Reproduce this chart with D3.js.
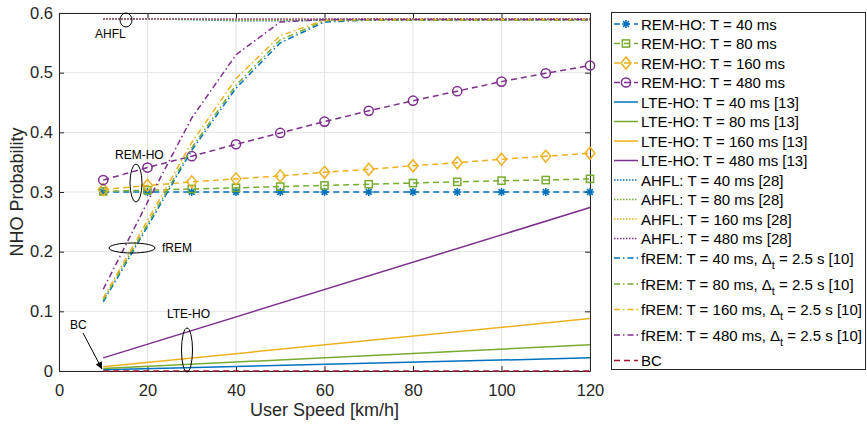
<!DOCTYPE html>
<html>
<head>
<meta charset="utf-8">
<script src="https://cdn.jsdelivr.net/npm/d3@7"></script>
<style>
  body { margin: 0; background: #fff; }
  svg { font-family: "Liberation Sans", Arial, sans-serif; }
</style>
</head>
<body>
<div id="chart"></div>
<script>
// ---- data ----
const speeds = [10, 20, 30, 40, 50, 60, 70, 80, 90, 100, 110, 120];
const lteSpeeds = [10, 120];
const xTicks = [0, 20, 40, 60, 80, 100, 120];
const yTicks = [0, 0.1, 0.2, 0.3, 0.4, 0.5, 0.6];

const remHo40 = [0.300, 0.300, 0.300, 0.300, 0.300, 0.300, 0.300, 0.300, 0.300, 0.300, 0.300, 0.300];
const remHo80 = [0.301, 0.303, 0.305, 0.307, 0.309, 0.311, 0.313, 0.315, 0.317, 0.319, 0.320, 0.322];
const remHo160 = [0.304, 0.311, 0.317, 0.322, 0.327, 0.333, 0.338, 0.344, 0.349, 0.355, 0.360, 0.365];
const remHo480 = [0.320, 0.341, 0.360, 0.380, 0.399, 0.418, 0.436, 0.453, 0.469, 0.485, 0.499, 0.512];

const lteHo40 = [0.002, 0.022];
const lteHo80 = [0.004, 0.044];
const lteHo160 = [0.007, 0.088];
const lteHo480 = [0.022, 0.274];

const ahfl40 = [0.590, 0.590, 0.589, 0.587, 0.587, 0.588, 0.589, 0.589, 0.589, 0.589, 0.589, 0.589];
const ahfl80 = [0.590, 0.590, 0.589, 0.588, 0.588, 0.589, 0.589, 0.589, 0.589, 0.589, 0.589, 0.589];
const ahfl160 = [0.590, 0.590, 0.590, 0.589, 0.589, 0.589, 0.590, 0.590, 0.590, 0.590, 0.590, 0.590];
const ahfl480 = [0.590, 0.590, 0.590, 0.590, 0.590, 0.590, 0.590, 0.590, 0.590, 0.590, 0.590, 0.590];

const frem40 = [0.116, 0.242, 0.370, 0.474, 0.550, 0.585, 0.588, 0.588, 0.588, 0.588, 0.588, 0.588];
const frem80 = [0.119, 0.246, 0.374, 0.479, 0.555, 0.587, 0.588, 0.588, 0.588, 0.588, 0.588, 0.588];
const frem160 = [0.122, 0.252, 0.383, 0.490, 0.562, 0.588, 0.589, 0.589, 0.589, 0.589, 0.589, 0.589];
const frem480 = [0.137, 0.283, 0.424, 0.530, 0.585, 0.589, 0.589, 0.589, 0.589, 0.589, 0.589, 0.589];

const bc = [0, 0, 0, 0, 0, 0, 0, 0, 0, 0, 0, 0];

const C = {
  blue: '#0072BD', green: '#77AC30', yellow: '#EDB120', purple: '#7E2F8E', red: '#A2142F'
};

// style per family
const DASH = '6,4';
const DOT = '1.5,1.5';
const DASHDOT = '6,3,1.5,3';

const series = [
  { label: 'REM-HO: T = 40 ms', xs: speeds, ys: remHo40, color: C.blue, dash: DASH, marker: 'asterisk' },
  { label: 'REM-HO: T = 80 ms', xs: speeds, ys: remHo80, color: C.green, dash: DASH, marker: 'square' },
  { label: 'REM-HO: T = 160 ms', xs: speeds, ys: remHo160, color: C.yellow, dash: DASH, marker: 'diamond' },
  { label: 'REM-HO: T = 480 ms', xs: speeds, ys: remHo480, color: C.purple, dash: DASH, marker: 'circle' },
  { label: 'LTE-HO: T = 40 ms [13]', xs: lteSpeeds, ys: lteHo40, color: C.blue, dash: null },
  { label: 'LTE-HO: T = 80 ms [13]', xs: lteSpeeds, ys: lteHo80, color: C.green, dash: null },
  { label: 'LTE-HO: T = 160 ms [13]', xs: lteSpeeds, ys: lteHo160, color: C.yellow, dash: null },
  { label: 'LTE-HO: T = 480 ms [13]', xs: lteSpeeds, ys: lteHo480, color: C.purple, dash: null },
  { label: 'AHFL: T = 40 ms [28]', xs: speeds, ys: ahfl40, color: C.blue, dash: DOT },
  { label: 'AHFL: T = 80 ms [28]', xs: speeds, ys: ahfl80, color: C.green, dash: DOT },
  { label: 'AHFL: T = 160 ms [28]', xs: speeds, ys: ahfl160, color: C.yellow, dash: DOT },
  { label: 'AHFL: T = 480 ms [28]', xs: speeds, ys: ahfl480, color: C.purple, dash: DOT },
  { label: 'fREM: T = 40 ms, ', sub: true, xs: speeds, ys: frem40, color: C.blue, dash: DASHDOT },
  { label: 'fREM: T = 80 ms, ', sub: true, xs: speeds, ys: frem80, color: C.green, dash: DASHDOT },
  { label: 'fREM: T = 160 ms, ', sub: true, xs: speeds, ys: frem160, color: C.yellow, dash: DASHDOT },
  { label: 'fREM: T = 480 ms, ', sub: true, xs: speeds, ys: frem480, color: C.purple, dash: DASHDOT },
  { label: 'BC', xs: speeds, ys: bc, color: C.red, dash: DASH }
];

const width = 867, height = 426;
const svg = d3.select('#chart').append('svg')
  .attr('width', width)
  .attr('height', height);

const x = d3.scaleLinear().domain([0, 120]).range([59, 590]);
const y = d3.scaleLinear().domain([0, 0.6]).range([371, 13]);

// grid
svg.append('g')
  .selectAll('line')
  .data(xTicks)
  .join('line')
  .attr('x1', d => x(d)).attr('x2', d => x(d))
  .attr('y1', y(0)).attr('y2', y(0.6))
  .attr('stroke', '#e3e3e3').attr('stroke-width', 1);
svg.append('g')
  .selectAll('line')
  .data(yTicks)
  .join('line')
  .attr('x1', x(0)).attr('x2', x(120))
  .attr('y1', d => y(d)).attr('y2', d => y(d))
  .attr('stroke', '#e3e3e3').attr('stroke-width', 1);

// axes (MATLAB box style, ticks inward)
const axisColor = '#262626';
const fmtY = d => d === 0 ? '0' : d3.format('.1f')(d);
const axBottom = svg.append('g').attr('transform', `translate(0,${y(0)})`)
  .call(d3.axisBottom(x).tickValues(xTicks).tickSizeInner(-5).tickSizeOuter(0).tickPadding(13));
const axLeft = svg.append('g').attr('transform', `translate(${x(0)},0)`)
  .call(d3.axisLeft(y).tickValues(yTicks).tickFormat(fmtY).tickSizeInner(-5).tickSizeOuter(0).tickPadding(6));
const axTop = svg.append('g').attr('transform', `translate(0,${y(0.6)})`)
  .call(d3.axisTop(x).tickValues(xTicks).tickSizeInner(-5).tickSizeOuter(0).tickFormat(''));
const axRight = svg.append('g').attr('transform', `translate(${x(120)},0)`)
  .call(d3.axisRight(y).tickValues(yTicks).tickSizeInner(-5).tickSizeOuter(0).tickFormat(''));
[axBottom, axLeft, axTop, axRight].forEach(g => {
  g.select('.domain').attr('stroke', axisColor).attr('stroke-width', 1);
  g.selectAll('.tick line').attr('stroke', axisColor);
  g.selectAll('.tick text').attr('fill', axisColor)
    .style('font-size', '16.5px').style('font-family', '"Liberation Sans", Arial, sans-serif');
});

// axis labels
svg.append('text')
  .attr('x', (x(0) + x(120)) / 2).attr('y', 416)
  .attr('text-anchor', 'middle').attr('fill', axisColor)
  .style('font-size', '18px')
  .text('User Speed [km/h]');
svg.append('text')
  .attr('transform', `translate(23,${(y(0) + y(0.6)) / 2}) rotate(-90)`)
  .attr('text-anchor', 'middle').attr('fill', axisColor)
  .style('font-size', '18px')
  .text('NHO Probability');

// markers
function drawMarker(g, type, cx, cy, color) {
  if (type === 'circle') {
    g.append('circle').attr('cx', cx).attr('cy', cy).attr('r', 4.6)
      .attr('fill', 'none').attr('stroke', color).attr('stroke-width', 1.5);
  } else if (type === 'square') {
    g.append('rect').attr('x', cx - 3.6).attr('y', cy - 3.6).attr('width', 7.2).attr('height', 7.2)
      .attr('fill', 'none').attr('stroke', color).attr('stroke-width', 1.5);
  } else if (type === 'diamond') {
    g.append('path').attr('d', `M${cx},${cy - 6}L${cx + 5},${cy}L${cx},${cy + 6}L${cx - 5},${cy}Z`)
      .attr('fill', 'none').attr('stroke', color).attr('stroke-width', 1.5);
  } else if (type === 'asterisk') {
    const r = 4, d = 2.9;
    g.append('path')
      .attr('d', `M${cx - r},${cy}L${cx + r},${cy}M${cx},${cy - r}L${cx},${cy + r}` +
        `M${cx - d},${cy - d}L${cx + d},${cy + d}M${cx - d},${cy + d}L${cx + d},${cy - d}`)
      .attr('stroke', color).attr('stroke-width', 1.5).attr('fill', 'none');
  }
}

// plot series
const plot = svg.append('g');
const line = d3.line().x(d => x(d[0])).y(d => y(d[1]));
series.forEach(s => {
  const pts = s.xs.map((v, i) => [v, s.ys[i]]);
  plot.append('path')
    .attr('d', line(pts))
    .attr('fill', 'none')
    .attr('stroke', s.color)
    .attr('stroke-width', 1.5)
    .attr('stroke-dasharray', s.dash);
  if (s.marker) {
    const mg = plot.append('g');
    pts.forEach(p => drawMarker(mg, s.marker, x(p[0]), y(p[1]), s.color));
  }
});

// annotations
const ann = svg.append('g').attr('fill', '#000').style('font-size', '12px');
const ellipses = [
  { cx: 126, cy: 20, rx: 6, ry: 7 },
  { cx: 136, cy: 183, rx: 6, ry: 19 },
  { cx: 132, cy: 248, rx: 23, ry: 5 },
  { cx: 187, cy: 350, rx: 5.5, ry: 22 }
];
ann.selectAll('ellipse').data(ellipses).join('ellipse')
  .attr('cx', d => d.cx).attr('cy', d => d.cy).attr('rx', d => d.rx).attr('ry', d => d.ry)
  .attr('fill', 'none').attr('stroke', '#000').attr('stroke-width', 1);
ann.append('text').attr('x', 95).attr('y', 38).text('AHFL');
ann.append('text').attr('x', 115).attr('y', 159).text('REM-HO');
ann.append('text').attr('x', 162).attr('y', 252).text('fREM');
ann.append('text').attr('x', 167).attr('y', 318).text('LTE-HO');
ann.append('text').attr('x', 70).attr('y', 329).text('BC');
svg.append('defs').append('marker')
  .attr('id', 'arrow').attr('viewBox', '0 0 10 10').attr('refX', 10).attr('refY', 5)
  .attr('markerWidth', 7).attr('markerHeight', 7).attr('orient', 'auto')
  .append('path').attr('d', 'M0,0L10,5L0,10Z').attr('fill', '#000');
ann.append('line')
  .attr('x1', 83).attr('y1', 333).attr('x2', 102).attr('y2', 369)
  .attr('stroke', '#000').attr('stroke-width', 1).attr('marker-end', 'url(#arrow)');

// legend
const legendRows = [24, 43.5, 63, 82.5, 102, 121.5, 141, 160.5, 180, 199.5, 219, 238.5, 258, 284, 309.5, 335, 360.5];
const lg = svg.append('g');
lg.append('rect')
  .attr('x', 611.5).attr('y', 12.5).attr('width', 254).attr('height', 357)
  .attr('fill', '#fff').attr('stroke', axisColor).attr('stroke-width', 1);
series.forEach((s, i) => {
  const ry = legendRows[i];
  lg.append('line')
    .attr('x1', 614).attr('x2', 638).attr('y1', ry).attr('y2', ry)
    .attr('stroke', s.color).attr('stroke-width', 1.5)
    .attr('stroke-dasharray', s.dash);
  if (s.marker) drawMarker(lg, s.marker, 626, ry, s.color);
  const t = lg.append('text')
    .attr('x', 641).attr('y', ry + 5.5)
    .attr('fill', '#000').style('font-size', '15px');
  t.append('tspan').text(s.label);
  if (s.sub) {
    t.append('tspan').text('\u0394');
    t.append('tspan').attr('dy', 5).style('font-size', '11px').text('t');
    t.append('tspan').attr('dy', -5).text(' = 2.5 s [10]');
  }
});
</script>
</body>
</html>
